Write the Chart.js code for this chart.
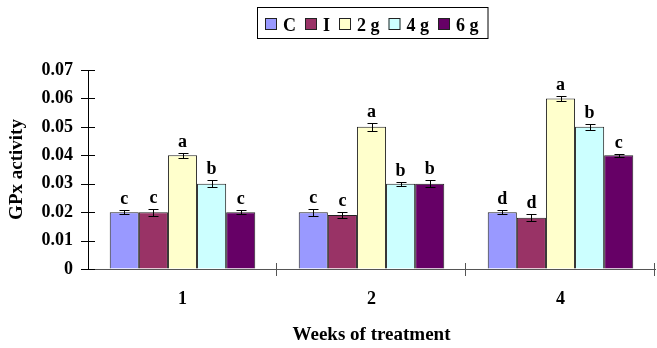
<!DOCTYPE html>
<html><head><meta charset="utf-8">
<script src="https://cdn.jsdelivr.net/npm/chart.js@4"></script>
<style>html,body{margin:0;padding:0;background:#fff}</style>
</head><body>
<canvas id="c" width="657" height="348"></canvas>
<script>
// Weeks of treatment (categories) and treatment groups (series)
const weeks = ['1', '2', '4'];
const groups = ['C', 'I', '2 g', '4 g', '6 g'];
const groupColors = ['#9999FF', '#993366', '#FFFFCC', '#CCFFFF', '#660066'];

// GPx activity per group, one value per week
const valC  = [0.020, 0.020, 0.020];
const valI  = [0.020, 0.019, 0.018];
const val2g = [0.040, 0.050, 0.060];
const val4g = [0.030, 0.030, 0.050];
const val6g = [0.020, 0.030, 0.040];

// Standard errors per group
const errC  = [0.0008, 0.0012, 0.0008];
const errI  = [0.0012, 0.0009, 0.0012];
const err2g = [0.0008, 0.0014, 0.0010];
const err4g = [0.0012, 0.0007, 0.0011];
const err6g = [0.0008, 0.0013, 0.0006];

// Significance letters per group
const letC  = ['c', 'c', 'd'];
const letI  = ['c', 'c', 'd'];
const let2g = ['a', 'a', 'a'];
const let4g = ['b', 'b', 'b'];
const let6g = ['c', 'b', 'c'];

// Y axis tick labels
const yTicks = ['0', '0.01', '0.02', '0.03', '0.04', '0.05', '0.06', '0.07'];

const values = [valC, valI, val2g, val4g, val6g];
const errors = [errC, errI, err2g, err4g, err6g];
const letters = [letC, letI, let2g, let4g, let6g];

const FONT = '"Liberation Serif", "Times New Roman", serif';

// Error bars and letters above each bar
const errorBarPlugin = {
  id: 'errorBars',
  afterDatasetsDraw(chart) {
    const ctx = chart.ctx;
    const y = chart.scales.y;
    ctx.save();
    ctx.strokeStyle = '#000';
    ctx.lineWidth = 1;
    ctx.fillStyle = '#000';
    ctx.font = 'bold 18px ' + FONT;
    ctx.textAlign = 'center';
    ctx.textBaseline = 'alphabetic';
    chart.data.datasets.forEach((ds, i) => {
      const meta = chart.getDatasetMeta(i);
      meta.data.forEach((bar, j) => {
        const v = values[i][j], e = errors[i][j];
        const x = Math.round(bar.x) + 0.5;
        const top = Math.round(y.getPixelForValue(v + e)) + 0.5;
        const bot = Math.round(y.getPixelForValue(v - e)) + 0.5;
        ctx.beginPath();
        ctx.moveTo(x, top); ctx.lineTo(x, bot);
        ctx.moveTo(x - 5, top); ctx.lineTo(x + 5, top);
        ctx.moveTo(x - 5, bot); ctx.lineTo(x + 5, bot);
        ctx.stroke();
        ctx.fillText(letters[i][j], bar.x, top - 7);
      });
    });
    ctx.restore();
  }
};

// Tick marks crossing both axes
const crossTicksPlugin = {
  id: 'crossTicks',
  afterDraw(chart) {
    const ctx = chart.ctx;
    const xs = chart.scales.x, ys = chart.scales.y;
    ctx.save();
    ctx.lineWidth = 1;
    ctx.strokeStyle = '#000';
    ctx.beginPath();
    ys.ticks.forEach(t => {
      const py = Math.round(ys.getPixelForValue(t.value)) + 0.5;
      ctx.moveTo(xs.left - 7, py); ctx.lineTo(xs.left + 7, py);
    });
    ctx.stroke();
    ctx.strokeStyle = '#555';
    ctx.beginPath();
    const n = weeks.length;
    for (let i = 1; i <= n; i++) {
      const px = Math.round(xs.left + i * (xs.right - xs.left) / n) - 0.5;
      ctx.moveTo(px, ys.bottom - 6); ctx.lineTo(px, ys.bottom + 7);
    }
    ctx.stroke();
    ctx.restore();
  }
};

// Boxed legend at the top
const boxedLegendPlugin = {
  id: 'boxedLegend',
  afterDraw(chart) {
    const ctx = chart.ctx;
    ctx.save();
    ctx.font = 'bold 18px ' + FONT;
    ctx.textBaseline = 'alphabetic';
    ctx.textAlign = 'left';
    const startX = 265, sq = 12, gap = 6, itemGap = 9;
    let x = startX;
    const items = chart.data.datasets.map(ds => {
      const w = ctx.measureText(ds.label).width;
      const it = { x, w, label: ds.label, color: ds.backgroundColor };
      x += sq + gap + w + itemGap;
      return it;
    });
    const right = x - itemGap + 9;
    ctx.strokeStyle = '#000';
    ctx.lineWidth = 1;
    ctx.strokeRect(257.5, 7.5, right - 257, 31);
    items.forEach(it => {
      ctx.fillStyle = it.color;
      ctx.fillRect(it.x, 18, sq, sq);
      ctx.strokeStyle = '#222';
      ctx.strokeRect(it.x + 0.5, 18.5, sq - 1, sq - 1);
      ctx.fillStyle = '#000';
      ctx.fillText(it.label, it.x + sq + gap, 31);
    });
    ctx.restore();
  }
};

new Chart(document.getElementById('c'), {
  type: 'bar',
  data: {
    labels: weeks,
    datasets: groups.map((g, i) => ({
      label: g,
      data: values[i],
      backgroundColor: groupColors[i],
      borderColor: '#222',
      borderWidth: 1,
      barPercentage: 1.0,
      categoryPercentage: 0.77
    }))
  },
  options: {
    responsive: false,
    animation: false,
    devicePixelRatio: 1,
    layout: { padding: { top: 70, right: 2, left: 0, bottom: 0 } },
    plugins: { legend: { display: false }, tooltip: { enabled: false } },
    scales: {
      x: {
        offset: true,
        grid: { display: true, drawOnChartArea: false, drawTicks: false, tickLength: 0 },
        border: { display: true, color: '#555', width: 1 },
        ticks: { color: '#000', padding: 20, font: { family: FONT, size: 18, weight: 'bold' } },
        title: { display: true, text: 'Weeks of treatment', color: '#000',
                 font: { family: FONT, size: 19, weight: 'bold' }, padding: { top: 4, bottom: 2 } },
        afterFit(s) { s.height = 79; }
      },
      y: {
        min: 0, max: 0.07,
        grid: { display: true, drawOnChartArea: false, drawTicks: false, tickLength: 0 },
        border: { display: true, color: '#000', width: 1 },
        ticks: {
          stepSize: 0.01, color: '#000', padding: 15,
          font: { family: FONT, size: 18, weight: 'bold' },
          callback: (v) => yTicks[Math.round(v * 100)]
        },
        title: { display: true, text: 'GPx activity', color: '#000',
                 font: { family: FONT, size: 19, weight: 'bold' }, padding: { top: 6, bottom: 0 } },
        afterFit(s) { s.width = 88; }
      }
    }
  },
  plugins: [errorBarPlugin, crossTicksPlugin, boxedLegendPlugin]
});
</script>
</body></html>
